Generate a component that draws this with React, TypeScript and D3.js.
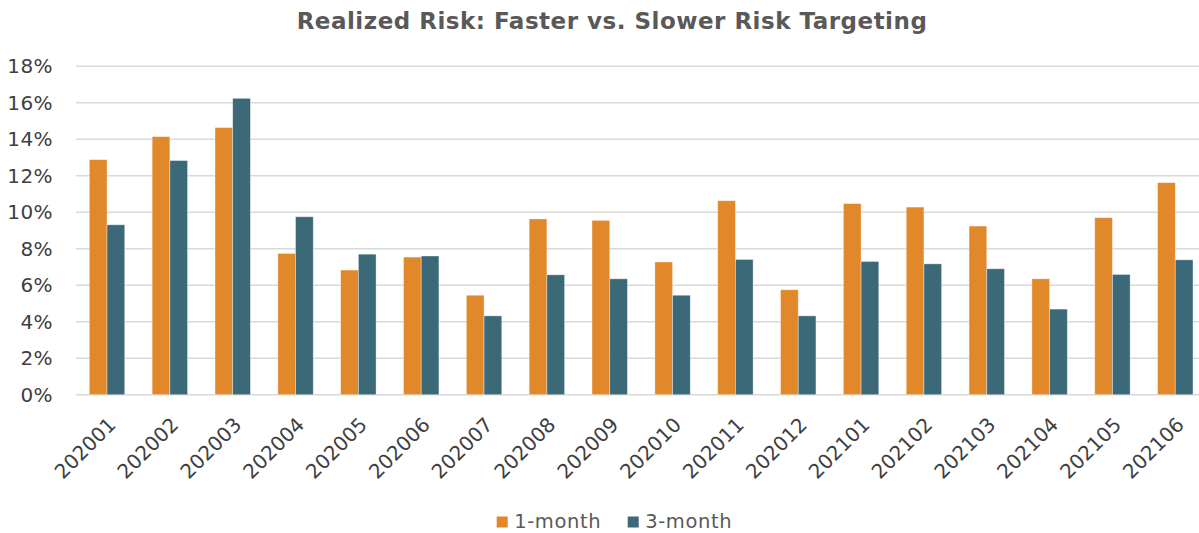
import React from "react";
import * as d3 from "d3";

const categories = ["202001","202002","202003","202004","202005","202006","202007","202008","202009","202010","202011","202012","202101","202102","202103","202104","202105","202106"];
const oneMonth = [12.88,14.14,14.64,7.74,6.83,7.54,5.45,9.63,9.55,7.27,10.63,5.75,10.47,10.28,9.24,6.35,9.70,11.62];
const threeMonth = [9.31,12.83,16.24,9.75,7.70,7.60,4.32,6.57,6.35,5.45,7.41,4.32,7.30,7.17,6.90,4.69,6.59,7.39];
const yTicks = [0,2,4,6,8,10,12,14,16,18];
const seriesNames = ["1-month","3-month"];
const colors = ["#E1882A","#3B6978"];

const W = 1199, H = 533;
const FONT = "'DejaVu Sans', Verdana, sans-serif";

export default function App() {
  const x = d3.scaleBand<string>().domain(categories).range([75.6, 1206.7]).paddingInner(0).paddingOuter(0);
  const y = d3.scaleLinear().domain([0, 18]).range([394.7, 66.2]);
  const barW = 17.7;
  const series = [oneMonth, threeMonth];
  return (
    <svg width={W} height={H} style={{ position: "absolute", left: 0, top: 0, background: "#fff" }}>
      <text x={612} y={28.5} textAnchor="middle" fontFamily={FONT} fontWeight="bold" fontSize={23} letterSpacing={0.5} fill="#595959">
        Realized Risk: Faster vs. Slower Risk Targeting
      </text>
      {yTicks.map((t) => (
        <g key={t}>
          <line x1={76} x2={1199} y1={y(t)} y2={y(t)} stroke="#D9D9D9" strokeWidth={1.6} />
          <text x={53} y={y(t)} dy="0.35em" textAnchor="end" fontFamily={FONT} fontSize={20} letterSpacing={0.4} fill="#404040">
            {t}%
          </text>
        </g>
      ))}
      {categories.map((c, i) => {
        const cx = (x(c) as number) + x.bandwidth() / 2;
        return (
          <g key={c}>
            {series.map((s, k) => (
              <rect
                key={k}
                x={cx - barW + k * barW}
                y={y(s[i])}
                width={barW}
                height={y(0) - y(s[i])}
                fill={colors[k]}
                stroke="#ffffff"
                strokeOpacity={0.45}
                strokeWidth={0.8}
              />
            ))}
            <text
              transform={`translate(${cx + 5},${421}) rotate(-45)`}
              textAnchor="end"
              dy="0.35em"
              fontFamily={FONT}
              fontSize={20}
              fill="#404040"
            >
              {c}
            </text>
          </g>
        );
      })}
      {seriesNames.map((n, k) => {
        const lx = [496.7, 627.7][k];
        return (
          <g key={n}>
            <rect x={lx} y={516.5} width={11} height={11} fill={colors[k]} />
            <text x={lx + 17.5} y={528} fontFamily={FONT} fontSize={19.5} letterSpacing={0.6} fill="#595959">
              {n}
            </text>
          </g>
        );
      })}
    </svg>
  );
}
